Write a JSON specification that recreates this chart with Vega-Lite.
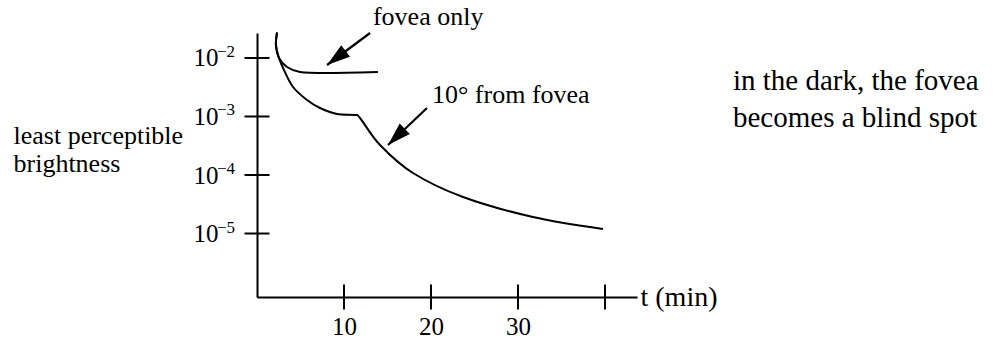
{
  "$schema": "https://vega.github.io/schema/vega-lite/v6.json",
  "width": 380,
  "height": 264,
  "autosize": {"type": "none"},
  "padding": {"left": 257, "top": 33, "right": 366, "bottom": 42},
  "background": "white",
  "config": {
    "view": {"stroke": null},
    "font": "'Liberation Serif', 'Times New Roman', serif",
    "text": {"font": "'Liberation Serif', 'Times New Roman', serif"},
    "axis": {"grid": false, "ticks": false, "tickSize": 0, "domainColor": "black", "domainWidth": 2, "labelColor": "black", "titleColor": "black", "labelFont": "'Liberation Serif', 'Times New Roman', serif", "titleFont": "'Liberation Serif', 'Times New Roman', serif", "titleFontWeight": "normal"}
  },
  "datasets": {
    "curves": [
      {"curve": "fovea only", "i": 0, "t": 2.3, "b": 0.0273},
      {"curve": "fovea only", "i": 1, "t": 2.18, "b": 0.01667},
      {"curve": "fovea only", "i": 2, "t": 2.53, "b": 0.01},
      {"curve": "fovea only", "i": 3, "t": 3.45, "b": 0.007015},
      {"curve": "fovea only", "i": 4, "t": 4.94, "b": 0.005768},
      {"curve": "fovea only", "i": 5, "t": 8.05, "b": 0.005546},
      {"curve": "fovea only", "i": 6, "t": 13.9, "b": 0.005768},
      {"curve": "10° from fovea", "i": 0, "t": 2.3, "b": 0.0273},
      {"curve": "10° from fovea", "i": 1, "t": 2.18, "b": 0.01667},
      {"curve": "10° from fovea", "i": 2, "t": 2.53, "b": 0.01},
      {"curve": "10° from fovea", "i": 3, "t": 3.1, "b": 0.006237},
      {"curve": "10° from fovea", "i": 4, "t": 4.14, "b": 0.003192},
      {"curve": "10° from fovea", "i": 5, "t": 5.75, "b": 0.001914},
      {"curve": "10° from fovea", "i": 6, "t": 7.24, "b": 0.001396},
      {"curve": "10° from fovea", "i": 7, "t": 9.2, "b": 0.001104},
      {"curve": "10° from fovea", "i": 8, "t": 11.26, "b": 0.001062},
      {"curve": "10° from fovea", "i": 9, "t": 11.84, "b": 0.000942},
      {"curve": "10° from fovea", "i": 10, "t": 14.14, "b": 0.0003258},
      {"curve": "10° from fovea", "i": 11, "t": 17.93, "b": 0.0001081},
      {"curve": "10° from fovea", "i": 12, "t": 23.68, "b": 0.0000421},
      {"curve": "10° from fovea", "i": 13, "t": 31.72, "b": 0.00001914},
      {"curve": "10° from fovea", "i": 14, "t": 39.77, "b": 0.00001194}
    ],
    "levels": [
      {"b": 0.01, "exp": "−2"},
      {"b": 0.001, "exp": "−3"},
      {"b": 0.0001, "exp": "−4"},
      {"b": 0.00001, "exp": "−5"}
    ],
    "minutes": [{"t": 10}, {"t": 20}, {"t": 30}, {"t": 40}],
    "arrows": [
      {"arrow": "fovea only", "t1": 13.0, "b1": 0.02673, "t2": 8.05, "b2": 0.007586},
      {"arrow": "10° from fovea", "t1": 19.54, "b1": 0.001396, "t2": 15.06, "b2": 0.0003258}
    ],
    "labels": [
      {"label": "fovea only", "t": 13.33, "b": 0.03664},
      {"label": "10° from fovea", "t": 20.11, "b": 0.001702}
    ],
    "note": [
      {"label": "in the dark, the fovea", "t": 54.71, "b": 0.00283},
      {"label": "becomes a blind spot", "t": 54.71, "b": 0.000662}
    ]
  },
  "layer": [
    {
      "data": {"name": "curves"},
      "mark": {"type": "line", "color": "black", "strokeWidth": 2, "interpolate": "cardinal", "clip": false},
      "encoding": {
        "x": {"field": "t", "type": "quantitative",
          "scale": {"type": "linear", "domain": [0, 43.68], "nice": false, "zero": false},
          "axis": {"values": [10, 20, 30], "labelFontSize": 25, "labelPadding": 17, "labelBaseline": "top",
            "title": "t (min)", "titleFontSize": 28, "titleX": 383, "titleY": 0, "titleAlign": "left", "titleBaseline": "middle", "titleAnchor": "start"}},
        "y": {"field": "b", "type": "quantitative",
          "scale": {"type": "log", "domain": [8.22e-7, 0.02673], "nice": false},
          "axis": {"values": [0.01, 0.001, 0.0001, 0.00001], "labelFontSize": 25, "labelPadding": 39, "labelBaseline": "middle",
            "labelExpr": "'10'",
            "title": ["least perceptible", "brightness"], "titleFontSize": 26, "titleAngle": 0, "titleAlign": "left",
            "titleBaseline": "alphabetic", "titleX": -244, "titleY": 110, "titleLineHeight": 28, "titleAnchor": "start"}},
        "detail": {"field": "curve"},
        "order": {"field": "i", "type": "quantitative"}
      }
    },
    {
      "data": {"name": "levels"},
      "mark": {"type": "text", "align": "left", "baseline": "alphabetic", "fontSize": 17, "dy": -1, "color": "black"},
      "encoding": {
        "x": {"datum": -4.6, "type": "quantitative"},
        "y": {"field": "b", "type": "quantitative"},
        "text": {"field": "exp"}
      }
    },
    {
      "data": {"name": "levels"},
      "mark": {"type": "tick", "orient": "horizontal", "size": 25, "thickness": 2, "color": "black", "opacity": 1},
      "encoding": {
        "x": {"datum": 0, "type": "quantitative"},
        "y": {"field": "b", "type": "quantitative"}
      }
    },
    {
      "data": {"name": "minutes"},
      "mark": {"type": "tick", "orient": "vertical", "size": 25, "thickness": 2, "color": "black", "opacity": 1},
      "encoding": {
        "x": {"field": "t", "type": "quantitative"},
        "y": {"datum": 8.22e-7, "type": "quantitative"}
      }
    },
    {
      "data": {"name": "arrows"},
      "mark": {"type": "rule", "color": "black", "strokeWidth": 2.2},
      "encoding": {
        "x": {"field": "t1", "type": "quantitative"},
        "y": {"field": "b1", "type": "quantitative"},
        "x2": {"field": "t2"},
        "y2": {"field": "b2"}
      }
    },
    {
      "data": {"name": "arrows"},
      "transform": [{"filter": "datum.arrow == 'fovea only'"}],
      "mark": {"type": "point", "shape": "M0,0L0.55,1.76L-0.55,1.76Z", "size": 700, "angle": 233, "filled": true, "color": "black", "opacity": 1},
      "encoding": {
        "x": {"field": "t2", "type": "quantitative"},
        "y": {"field": "b2", "type": "quantitative"}
      }
    },
    {
      "data": {"name": "arrows"},
      "transform": [{"filter": "datum.arrow == '10° from fovea'"}],
      "mark": {"type": "point", "shape": "M0,0L0.55,1.76L-0.55,1.76Z", "size": 700, "angle": 226, "filled": true, "color": "black", "opacity": 1},
      "encoding": {
        "x": {"field": "t2", "type": "quantitative"},
        "y": {"field": "b2", "type": "quantitative"}
      }
    },
    {
      "data": {"name": "labels"},
      "mark": {"type": "text", "align": "left", "baseline": "alphabetic", "fontSize": 26, "color": "black"},
      "encoding": {
        "x": {"field": "t", "type": "quantitative"},
        "y": {"field": "b", "type": "quantitative"},
        "text": {"field": "label"}
      }
    },
    {
      "data": {"name": "note"},
      "mark": {"type": "text", "align": "left", "baseline": "alphabetic", "fontSize": 29, "color": "black"},
      "encoding": {
        "x": {"field": "t", "type": "quantitative"},
        "y": {"field": "b", "type": "quantitative"},
        "text": {"field": "label"}
      }
    }
  ]
}
